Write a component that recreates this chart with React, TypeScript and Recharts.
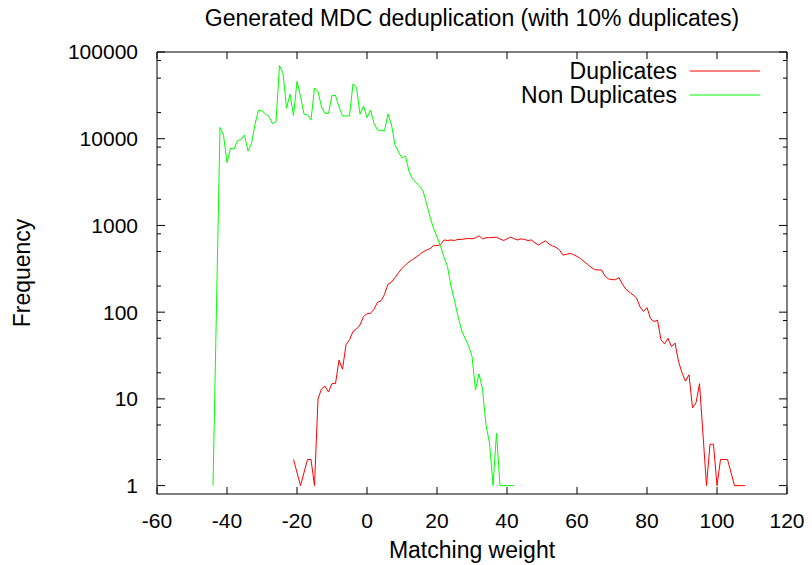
import { LineChart, Line, XAxis, YAxis, ReferenceArea, Legend } from "recharts";

// matching weight -> frequency
const nonDupWeights = [
  -44, -42, -41, -40, -39, -38, -37, -36, -35, -34, -33, -32, -31, -30, -29, -28, -27, -26, -25, -24,
  -23, -22, -21, -20, -19, -18, -17, -16, -15, -14, -13, -12, -11, -10, -9, -8, -7, -6, -5, -4,
  -3, -2, -1, 0, 1, 2, 3, 4, 5, 6, 7, 8, 9, 10, 11, 12, 13, 14, 15, 16,
  17, 18, 19, 20, 21, 22, 23, 24, 25, 26, 27, 28, 29, 30, 31, 32, 33, 34, 35, 36,
  37, 38, 39, 40, 41, 42,
];
const nonDupCounts = [
  1, 13500, 11000, 5300, 7800, 7600, 9500, 9800, 11000, 7200, 8800, 14600, 21400, 20900, 19200, 18000, 14900, 15800, 69900, 57000,
  22500, 32700, 18500, 45700, 30700, 19200, 18900, 16400, 38400, 35000, 23300, 19600, 19600, 31500, 31500, 23300, 18300, 18300, 18300, 43000,
  39300, 19200, 23800, 17500, 21400, 15000, 12600, 12500, 12300, 19300, 14400, 8500, 7000, 6000, 6300, 4200, 3450, 3100, 2850, 2500,
  1800, 1250, 930, 740, 580, 430, 335, 200, 135, 90, 62, 50, 41, 31, 12.7, 19.4, 13, 5, 3.1, 1,
  4, 1, 1, 1, 1, 1,
];

const dupWeights = [
  -21, -19, -17, -16, -15, -14, -13, -12, -11, -10, -9, -8, -7, -6, -5, -4, -3, -2, -1, 0,
  1, 2, 3, 4, 5, 6, 7, 8, 9, 10, 11, 12, 13, 14, 15, 16, 17, 18, 19, 20,
  21, 22, 23, 24, 25, 26, 27, 28, 29, 30, 31, 32, 33, 34, 35, 36, 37, 38, 39, 40,
  41, 42, 43, 44, 45, 46, 47, 48, 49, 50, 51, 52, 53, 54, 55, 56, 57, 58, 59, 60,
  61, 62, 63, 64, 65, 66, 67, 68, 69, 70, 71, 72, 73, 74, 75, 76, 77, 78, 79, 80,
  81, 82, 83, 84, 85, 86, 87, 88, 89, 90, 91, 92, 93, 94, 95, 97, 98, 99, 100, 101,
  102, 103, 105, 106, 107, 108,
];
const dupCounts = [
  2, 1, 2, 2, 1, 10, 13, 14, 12, 15, 15, 28, 22, 42, 48, 60, 64, 71, 89, 96,
  97, 108, 130, 135, 160, 210, 222, 250, 285, 320, 350, 380, 405, 430, 460, 495, 520, 540, 585, 585,
  600, 680, 670, 680, 670, 690, 690, 700, 710, 700, 720, 760, 700, 720, 725, 725, 733, 700, 670, 700,
  733, 705, 680, 700, 690, 670, 680, 630, 595, 630, 665, 610, 580, 560, 520, 455, 465, 478, 460, 440,
  415, 385, 355, 330, 310, 307, 307, 260, 242, 237, 237, 250, 210, 183, 170, 158, 146, 115, 102, 113,
  84, 78, 81, 48, 43, 50, 40, 44, 27, 20, 16, 19, 7.9, 9, 15, 1, 3, 3, 1, 2,
  2, 2, 1, 1, 1, 1,
];

const xTicks = [-60, -40, -20, 0, 20, 40, 60, 80, 100, 120];
const yTicks = [1, 10, 100, 1000, 10000, 100000];
const yMinorSteps = [2, 5, 8];

const nonDupData = nonDupWeights.map((x, i) => ({ x, v: nonDupCounts[i] }));
const dupData = dupWeights.map((x, i) => ({ x, v: dupCounts[i] }));
const yAllTicks = yTicks.flatMap((t) =>
  t < 100000 ? [t, ...yMinorSteps.map((m) => t * m)] : [t]
);

const W = 812;
const H = 565;
const MARGIN = { top: 52, right: 25, left: 0, bottom: 0 };
const Y_AXIS_W = 157;
const X_AXIS_H = 71;
const PLOT_L = MARGIN.left + Y_AXIS_W;
const PLOT_R = W - MARGIN.right;
const PLOT_T = MARGIN.top;
const PLOT_B = H - MARGIN.bottom - X_AXIS_H;
const GAP = 19;
const FONT = "'Liberation Sans', Arial, sans-serif";
const NUM_SIZE = 21;
const TEXT_SIZE = 23;

function XTick(props: any) {
  const { x, y, payload } = props;
  return (
    <g>
      <line x1={x} x2={x} y1={PLOT_B} y2={PLOT_B - 7} stroke="#000" />
      <line x1={x} x2={x} y1={PLOT_T} y2={PLOT_T + 7} stroke="#000" />
      <text x={x} y={y} dy="0.71em" textAnchor="middle" fontFamily={FONT} fontSize={NUM_SIZE} fill="#000">
        {payload.value}
      </text>
    </g>
  );
}

function YTick(props: any) {
  const { x, y, payload } = props;
  const major = yTicks.includes(payload.value);
  const len = major ? 8 : 4;
  return (
    <g>
      <line x1={PLOT_L} x2={PLOT_L + len} y1={y} y2={y} stroke="#000" />
      <line x1={PLOT_R - len} x2={PLOT_R} y1={y} y2={y} stroke="#000" />
      {major && (
        <text x={x} y={y} dy="0.355em" textAnchor="end" fontFamily={FONT} fontSize={NUM_SIZE} fill="#000">
          {payload.value}
        </text>
      )}
    </g>
  );
}

function LegendBox(props: any) {
  const items = props.payload || [];
  return (
    <svg width={280} height={50}>
      {items.map((it: any, i: number) => (
        <g key={it.value}>
          <text x={177} y={21 + i * 24} textAnchor="end" fontFamily={FONT} fontSize={TEXT_SIZE} fill="#000">
            {it.value}
          </text>
          <line x1={190} x2={260} y1={13 + i * 24} y2={13 + i * 24} stroke={it.color} />
        </g>
      ))}
    </svg>
  );
}

export default function App() {
  return (
    <div style={{ position: "absolute", left: 0, top: 0, width: W, height: H, background: "#fff" }}>
      <div
        style={{
          position: "absolute",
          left: PLOT_L,
          width: PLOT_R - PLOT_L,
          top: 5,
          textAlign: "center",
          fontFamily: FONT,
          fontSize: TEXT_SIZE,
          lineHeight: "26px",
          whiteSpace: "nowrap",
        }}
      >
        Generated MDC deduplication (with 10% duplicates)
      </div>
      <LineChart width={W} height={H} margin={MARGIN}>
        <XAxis
          dataKey="x"
          type="number"
          domain={[-60, 120]}
          ticks={xTicks}
          interval={0}
          height={X_AXIS_H}
          axisLine={false}
          tickLine={false}
          tickSize={0}
          tickMargin={GAP}
          tick={<XTick />}
          label={{
            value: "Matching weight",
            position: "insideBottom",
            offset: 7,
            style: { fontFamily: FONT, fontSize: TEXT_SIZE, fill: "#000" },
          }}
        />
        <YAxis
          type="number"
          scale="log"
          domain={[0.8, 100000]}
          ticks={yAllTicks}
          interval={0}
          width={Y_AXIS_W}
          axisLine={false}
          tickLine={false}
          tickSize={0}
          tickMargin={GAP}
          tick={<YTick />}
          label={{
            value: "Frequency",
            angle: -90,
            position: "insideLeft",
            offset: 22,
            style: { fontFamily: FONT, fontSize: TEXT_SIZE, fill: "#000", textAnchor: "middle" },
          }}
        />
        <ReferenceArea x1={-60} x2={120} y1={0.8} y2={100000} fill="none" stroke="#000" strokeWidth={1} />
        <Line
          data={dupData}
          dataKey="v"
          name="Duplicates"
          type="linear"
          stroke="#ff0000"
          strokeWidth={1}
          dot={false}
          isAnimationActive={false}
        />
        <Line
          data={nonDupData}
          dataKey="v"
          name="Non Duplicates"
          type="linear"
          stroke="#00ff00"
          strokeWidth={1}
          dot={false}
          isAnimationActive={false}
        />
        <Legend
          layout="vertical"
          align="center"
          verticalAlign="middle"
          content={<LegendBox />}
          wrapperStyle={{ position: "absolute", left: 500, top: 58, width: 280, height: 50 }}
        />
      </LineChart>
    </div>
  );
}
